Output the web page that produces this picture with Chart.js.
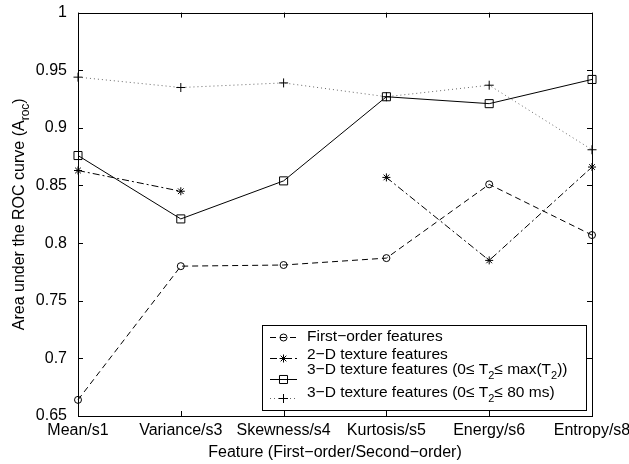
<!DOCTYPE html>
<html>
<head>
<meta charset="utf-8">
<script src="https://cdn.jsdelivr.net/npm/chart.js@4.4.1/dist/chart.umd.min.js"></script>
<style>
html, body { margin: 0; padding: 0; background: #fff; }
#wrap { width: 629px; height: 464px; }
</style>
</head>
<body>
<div id="wrap"><canvas id="roc" width="629" height="464"></canvas></div>
<script>
// data
const features = ['Mean/s1', 'Variance/s3', 'Skewness/s4', 'Kurtosis/s5', 'Energy/s6', 'Entropy/s8']
const firstOrder = [0.664, 0.780, 0.781, 0.787, 0.851, 0.807]
const texture2d = [0.863, 0.845, null, 0.857, 0.785, 0.866]
const texture3dMax = [0.876, 0.821, 0.854, 0.927, 0.921, 0.942]
const texture3d80 = [0.944, 0.935, 0.939, 0.927, 0.937, 0.881]
const yTicks = [0.65, 0.7, 0.75, 0.8, 0.85, 0.9, 0.95, 1]
const legendLabels = [
  'First\u2212order features',
  '2\u2212D texture features',
  '3\u2212D texture features (0\u2264 T_2\u2264 max(T_2))',
  '3\u2212D texture features (0\u2264 T_2\u2264 80 ms)',
]
const xTitle = 'Feature (First\u2212order/Second\u2212order)'
const yTitle = 'Area under the ROC curve (A_roc)'

const FONT = '"Liberation Sans", Arial, Helvetica, sans-serif'
const FS = 16

// draw text where "_x" parts are subscripts, starting at x (left aligned)
function subText(ctx, str, x, y, size, measureOnly) {
  const parts = str.split(/(_\w+)/).filter(p => p.length)
  let w = 0
  parts.forEach(p => {
    const sub = p[0] === '_'
    const t = sub ? p.slice(1) : p
    ctx.font = (sub ? Math.round(size * 0.72) : size) + 'px ' + FONT
    if (!measureOnly) ctx.fillText(t, x + w, sub ? y + size * 0.38 : y)
    w += ctx.measureText(t).width
  })
  return w
}

function drawMarker(ctx, style, x, y, r) {
  ctx.beginPath()
  if (style === 'circle') {
    ctx.arc(x, y, r, 0, Math.PI * 2)
  } else if (style === 'rect') {
    const s = r / Math.SQRT2
    ctx.rect(x - s, y - s, s * 2, s * 2)
  } else if (style === 'cross') {
    ctx.moveTo(x - r, y); ctx.lineTo(x + r, y)
    ctx.moveTo(x, y - r); ctx.lineTo(x, y + r)
  } else if (style === 'star') {
    ctx.moveTo(x - r, y); ctx.lineTo(x + r, y)
    ctx.moveTo(x, y - r); ctx.lineTo(x, y + r)
    const d = r * Math.SQRT1_2
    ctx.moveTo(x - d, y - d); ctx.lineTo(x + d, y + d)
    ctx.moveTo(x - d, y + d); ctx.lineTo(x + d, y - d)
  }
  ctx.stroke()
}

const matlabFrame = {
  id: 'matlabFrame',
  afterDraw(chart) {
    const { ctx, chartArea: a, scales } = chart
    ctx.save()
    ctx.strokeStyle = '#000'
    ctx.lineWidth = 1
    ctx.setLineDash([])
    ctx.strokeRect(Math.round(a.left) + 0.5, Math.round(a.top) + 0.5,
      Math.round(a.right - a.left), Math.round(a.bottom - a.top))

    // inward ticks
    ctx.beginPath()
    scales.y.ticks.forEach(t => {
      const y = Math.round(scales.y.getPixelForValue(t.value)) + 0.5
      ctx.moveTo(a.left, y); ctx.lineTo(a.left + 5, y)
      ctx.moveTo(a.right, y); ctx.lineTo(a.right - 5, y)
    })
    features.forEach((f, i) => {
      const x = Math.round(scales.x.getPixelForValue(i)) + 0.5
      ctx.moveTo(x, a.bottom); ctx.lineTo(x, a.bottom - 5)
      ctx.moveTo(x, a.top); ctx.lineTo(x, a.top + 5)
    })
    ctx.stroke()

    // axis titles
    ctx.fillStyle = '#000'
    ctx.textBaseline = 'middle'
    ctx.font = FS + 'px ' + FONT
    ctx.textAlign = 'center'
    ctx.fillText(xTitle, (a.left + a.right) / 2, 453)
    ctx.textAlign = 'left'
    ctx.save()
    ctx.translate(20, (a.top + a.bottom) / 2)
    ctx.rotate(-Math.PI / 2)
    const tw = subText(ctx, yTitle, 0, 0, FS, true)
    subText(ctx, yTitle, -tw / 2, 0, FS)
    ctx.restore()

    // legend
    const box = { x: 262, y: 325, w: 324, h: 85 }
    ctx.fillStyle = '#fff'
    ctx.fillRect(box.x, box.y, box.w, box.h)
    ctx.strokeRect(box.x + 0.5, box.y + 0.5, box.w, box.h)
    const sampleY = [337, 358, 379, 398]
    const textY = [337, 355, 370, 393]
    chart.data.datasets.forEach((ds, i) => {
      ctx.strokeStyle = ds.borderColor
      ctx.setLineDash(ds.borderDash || [])
      ctx.beginPath()
      ctx.moveTo(270, sampleY[i] + 0.5); ctx.lineTo(297, sampleY[i] + 0.5)
      ctx.stroke()
      ctx.setLineDash([])
      ctx.strokeStyle = '#000'
      drawMarker(ctx, ds.pointStyle, 283.5, sampleY[i] + 0.5, ds.pointRadius)
      ctx.fillStyle = '#000'
      subText(ctx, legendLabels[i], 307, textY[i], 15.5)
    })
    ctx.restore()
  },
}

const common = {
  fill: false,
  borderWidth: 1,
  pointBorderColor: '#000',
  pointBackgroundColor: 'rgba(0,0,0,0)',
  pointBorderWidth: 1,
  tension: 0,
  spanGaps: false,
  clip: false,
}

new Chart(document.getElementById('roc').getContext('2d'), {
  type: 'line',
  data: {
    labels: features,
    datasets: [
      { ...common, label: legendLabels[0], data: firstOrder, borderColor: '#000', borderDash: [6, 4], pointStyle: 'circle', pointRadius: 3.5 },
      { ...common, label: legendLabels[1], data: texture2d, borderColor: '#000', borderDash: [7, 3, 2, 3], pointStyle: 'star', pointRadius: 4 },
      { ...common, label: legendLabels[2], data: texture3dMax, borderColor: '#000', pointStyle: 'rect', pointRadius: 5.7 },
      { ...common, label: legendLabels[3], data: texture3d80, borderColor: '#666', borderDash: [1, 3], pointStyle: 'cross', pointRadius: 4.5 },
    ],
  },
  options: {
    responsive: false,
    animation: false,
    layout: { padding: { top: 12, right: 37, left: 0, bottom: 0 } },
    plugins: {
      legend: { display: false },
      tooltip: { enabled: false },
    },
    scales: {
      x: {
        type: 'category',
        offset: false,
        grid: { display: false },
        border: { display: false },
        ticks: { color: '#000', font: { family: FONT, size: FS }, padding: -3, maxRotation: 0, autoSkip: false },
        afterFit: s => { s.height = 48; s.paddingLeft = 0; s.paddingRight = 0 },
      },
      y: {
        min: 0.65,
        max: 1,
        grid: { display: false },
        border: { display: false },
        afterBuildTicks: s => { s.ticks = yTicks.map(v => ({ value: v })) },
        ticks: {
          color: '#000',
          font: { family: FONT, size: FS },
          padding: 3,
          callback: v => String(+Number(v).toFixed(2)),
        },
        afterFit: s => { s.width = 78 },
      },
    },
  },
  plugins: [matlabFrame],
})
</script>
</body>
</html>
